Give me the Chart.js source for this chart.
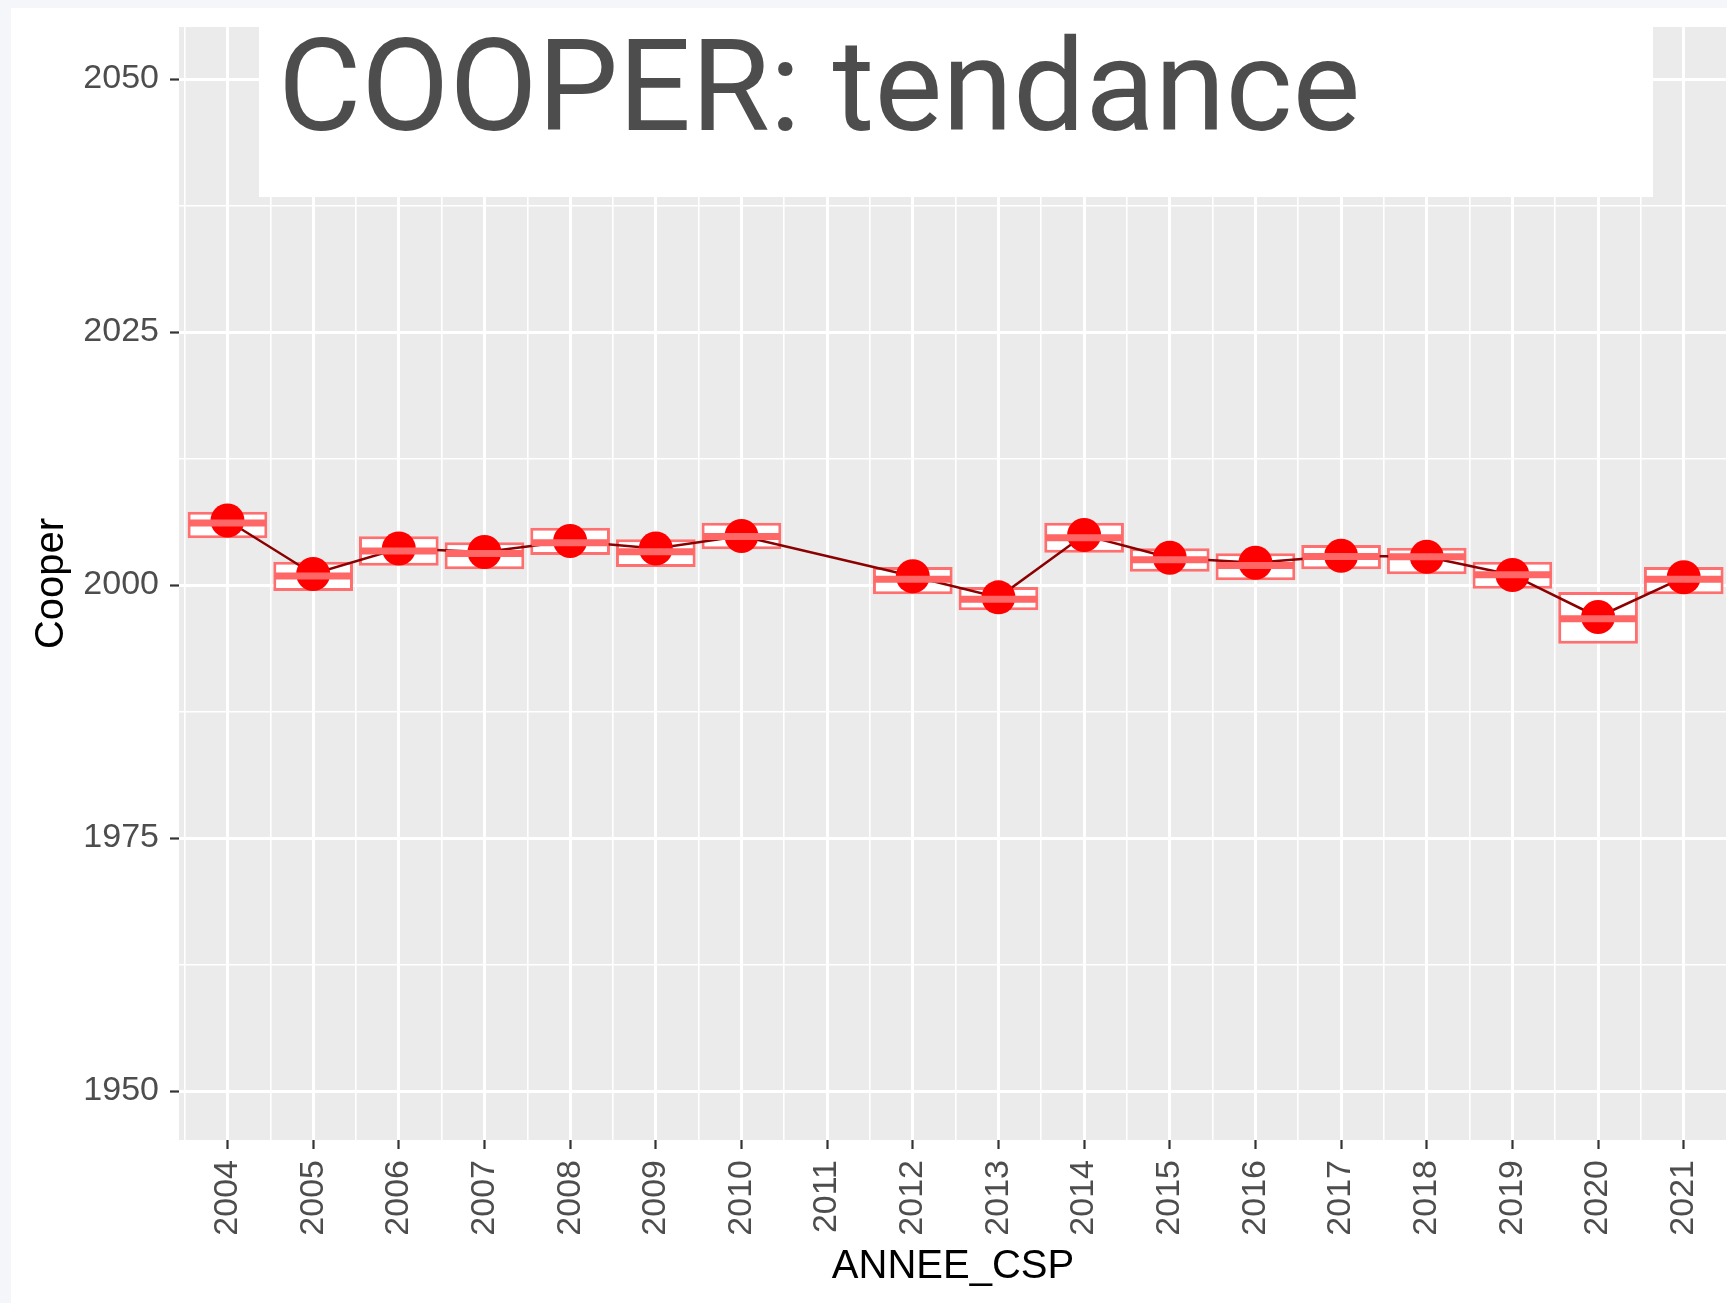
<!DOCTYPE html>
<html>
<head>
<meta charset="utf-8">
<script src="https://cdn.jsdelivr.net/npm/chart.js@4.4.1/dist/chart.umd.min.js"></script>
<style>
  html, body { margin: 0; padding: 0; background: #f4f6fa; overflow: hidden; }
  #page { position: absolute; left: 11px; top: 8px; width: 1716px; height: 1295px; background: #fff; }
  #c { position: absolute; left: 0; top: 0; }
  #titre { position: absolute; left: 248px; top: 0; width: 1394px; height: 189px; background: #fff; }
  #titre span { position: absolute; left: 19px; top: 14px; font: 128px/128px Roboto, sans-serif; color: #4d4d4d; white-space: nowrap; }
</style>
</head>
<body>
<div id="page">
  <canvas id="c" width="1716" height="1295" style="width:1716px;height:1295px"></canvas>
  <div id="titre"><span>COOPER: tendance</span></div>
</div>
<script>
// Années affichées sur l'axe X (tick labels)
const anneesAxe = ['2004','2005','2006','2007','2008','2009','2010','2011','2012','2013',
                   '2014','2015','2016','2017','2018','2019','2020','2021'];
// Années avec des données (pas de 2011)
const annees = [2004, 2005, 2006, 2007, 2008, 2009, 2010, 2012, 2013, 2014, 2015, 2016, 2017, 2018, 2019, 2020, 2021];
// Boxplot : quartiles et médiane
const q1      = [2004.61, 1999.41, 2001.91, 2001.56, 2002.96, 2001.78, 2003.53, 1999.08, 1997.50, 2003.19, 2001.31, 2000.46, 2001.55, 2001.06, 1999.63, 1994.20, 1999.08];
const q3      = [2007.24, 2002.30, 2004.81, 2004.22, 2005.66, 2004.52, 2006.16, 2001.78, 1999.80, 2006.16, 2003.63, 2003.13, 2003.95, 2003.69, 2002.30, 1999.31, 2001.78];
const mediane = [2006.13, 2000.89, 2003.36, 2003.11, 2004.18, 2003.28, 2004.79, 2000.56, 1998.59, 2004.67, 2002.49, 2001.93, 2002.82, 2002.79, 2001.02, 1996.66, 2000.57];
// Moyennes (points + ligne)
const moyenne = [2006.37, 2001.09, 2003.61, 2003.26, 2004.35, 2003.61, 2004.84, 2000.86, 1998.78, 2004.94, 2002.70, 2002.20, 2002.90, 2002.79, 2000.99, 1996.84, 2000.76];
// Ticks de l'axe Y
const yLabels = [1950, 1975, 2000, 2025, 2050];

const police = "'Liberation Sans', Arial, sans-serif";

// ticks majeurs + mineurs (à mi-chemin) comme ggplot
const xTicks = [];
anneesAxe.forEach(a => { xTicks.push(Number(a) - 0.5, Number(a)); });
xTicks.push(Number(anneesAxe[anneesAxe.length - 1]) + 0.5);
const yTicks = [];
yLabels.forEach((v, i) => { yTicks.push(v); if (i < yLabels.length - 1) yTicks.push((v + yLabels[i + 1]) / 2); });

const estMajeurX = v => Number.isInteger(v);
const estMajeurY = v => yLabels.includes(v);

const fondPanneau = {
  id: 'fondPanneau',
  beforeDraw(chart) {
    const { ctx, chartArea: a } = chart;
    ctx.save();
    ctx.fillStyle = '#ebebeb';
    ctx.fillRect(a.left, a.top, a.right - a.left, a.bottom - a.top);
    ctx.restore();
  }
};

const pts = (vals) => annees.map((a, i) => ({ x: a, y: vals[i] }));

new Chart(document.getElementById('c'), {
  type: 'bar',
  data: {
    datasets: [
      {
        type: 'bar',
        data: annees.map((a, i) => ({ x: a, y: [q1[i], q3[i]] })),
        backgroundColor: '#ffffff',
        borderColor: '#ff6f6f',
        borderWidth: 3,
        borderSkipped: false,
        // l'écart minimal vu par Chart.js est le demi-tick (0.5 an)
        barPercentage: 0.93,
        categoryPercentage: 2,
        order: 4
      },
      {
        type: 'line',
        data: pts(moyenne),
        borderColor: '#8b0000',
        borderWidth: 2.5,
        pointRadius: 0,
        tension: 0,
        fill: false,
        order: 3
      },
      {
        type: 'scatter',
        data: pts(moyenne),
        backgroundColor: '#ff0000',
        borderColor: '#ff0000',
        borderWidth: 0,
        pointRadius: 17,
        order: 2
      },
      {
        type: 'scatter',
        data: pts(mediane),
        pointStyle: 'line',
        pointRadius: 38.5,
        borderColor: '#ff6666',
        borderWidth: 7,
        order: 1
      }
    ]
  },
  options: {
    responsive: false,
    animation: false,
    devicePixelRatio: 1,
    layout: { autoPadding: false, padding: { top: 19, left: 0, right: 0, bottom: 0 } },
    plugins: { legend: { display: false }, tooltip: { enabled: false } },
    scales: {
      x: {
        type: 'linear',
        min: 2003.434,
        max: 2021.505,
        offset: false,
        afterBuildTicks: s => { s.ticks = xTicks.map(v => ({ value: v })); },
        afterFit: s => { s.height = 163; s.paddingLeft = 0; s.paddingRight = 0; },
        grid: {
          offset: false,
          color: '#ffffff',
          lineWidth: c => estMajeurX(c.tick.value) ? 3 : 1.6,
          tickColor: c => estMajeurX(c.tick.value) ? '#333333' : 'rgba(0,0,0,0)',
          tickLength: 9,
          tickWidth: 2.2
        },
        border: { display: false },
        ticks: {
          autoSkip: false,
          minRotation: 90,
          maxRotation: 90,
          padding: 11,
          color: '#4d4d4d',
          font: { family: police, size: 34 },
          callback: v => estMajeurX(v) ? String(v) : ''
        },
        title: {
          display: true,
          text: 'ANNEE_CSP',
          color: '#000000',
          font: { family: police, size: 40 },
          padding: { top: 0, bottom: 12.5 }
        }
      },
      y: {
        type: 'linear',
        min: 1945.16,
        max: 2055.14,
        afterBuildTicks: s => { s.ticks = yTicks.map(v => ({ value: v })); },
        afterFit: s => { s.width = 168; s.paddingTop = 0; s.paddingBottom = 0; },
        grid: {
          color: '#ffffff',
          lineWidth: c => estMajeurY(c.tick.value) ? 3 : 1.6,
          tickColor: c => estMajeurY(c.tick.value) ? '#333333' : 'rgba(0,0,0,0)',
          tickLength: 9,
          tickWidth: 2.2
        },
        border: { display: false },
        ticks: {
          padding: 11,
          color: '#4d4d4d',
          font: { family: police, size: 34 },
          callback: v => estMajeurY(v) ? String(v) : ''
        },
        title: {
          display: true,
          text: 'Cooper',
          color: '#000000',
          font: { family: police, size: 40 },
          padding: { top: 16.5, bottom: 0 }
        }
      }
    }
  },
  plugins: [fondPanneau]
});
</script>
</body>
</html>
